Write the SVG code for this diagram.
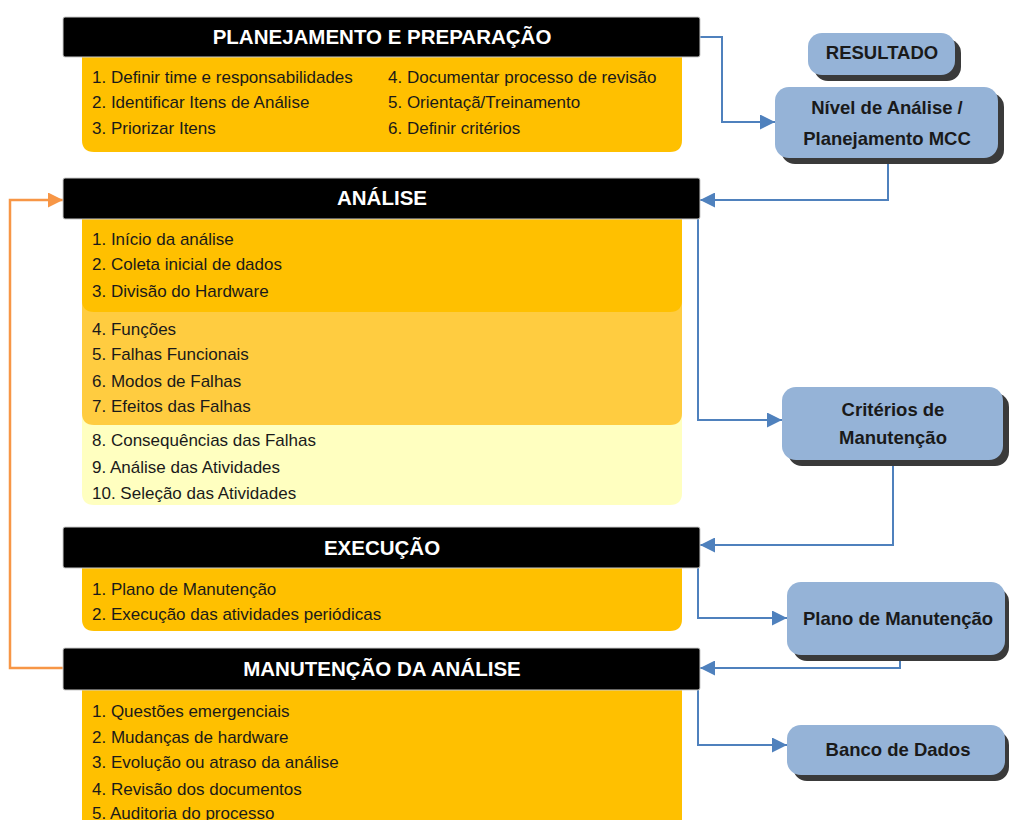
<svg xmlns="http://www.w3.org/2000/svg" width="1009" height="820" viewBox="0 0 1009 820">
<defs>
<marker id="ab" viewBox="0 0 10 10" refX="10" refY="5" markerWidth="17" markerHeight="15" markerUnits="userSpaceOnUse" orient="auto"><path d="M0,0 L10,5 L0,10 z" fill="#4F81BD"/></marker>
<marker id="ao" viewBox="0 0 10 10" refX="10" refY="5" markerWidth="17" markerHeight="15" markerUnits="userSpaceOnUse" orient="auto"><path d="M0,0 L10,5 L0,10 z" fill="#F79646"/></marker>
<style>
.hdr{fill:#000;stroke:#ccc;stroke-width:1}
.ht{font-family:"Liberation Sans",Arial,sans-serif;font-weight:bold;font-size:20.5px;fill:#fff;text-anchor:middle}
.bt{font-family:"Liberation Sans",Arial,sans-serif;font-size:17px;fill:#1a1a1a}
.o1{fill:#FFC000}
.o2{fill:#FFCC40}
.o3{fill:#FFFFC0}
.bx{fill:#95B3D7}
.sh{fill:#3a3a3a}
.nt{font-family:"Liberation Sans",Arial,sans-serif;font-weight:bold;font-size:18.5px;fill:#1a1a1a;text-anchor:middle}
.cb{fill:none;stroke:#4F81BD;stroke-width:2;marker-end:url(#ab)}
.co{fill:none;stroke:#F79646;stroke-width:2.5;marker-end:url(#ao)}
</style>
</defs>
<rect width="1009" height="820" fill="#fff"/>

<g id="connectors">
<path class="cb" d="M700,37 H722 V122 H775"/>
<path class="cb" d="M888,160 V200 H700"/>
<path class="cb" d="M698,219 V420 H782"/>
<path class="cb" d="M893,462 V545 H700"/>
<path class="cb" d="M698,568 V618 H787"/>
<path class="cb" d="M900,657 V668 H700"/>
<path class="cb" d="M698,690 V745 H787"/>
<path class="co" d="M63,668 H10 V200 H63"/>
</g>

<g id="planejamento">
<path class="o1" d="M82,57 H682 V140 Q682,152 670,152 H94 Q82,152 82,140 Z"/>
<rect class="hdr" x="63" y="17" width="637" height="40" rx="2"/>
<text class="ht" x="382" y="44">PLANEJAMENTO E PREPARAÇÃO</text>
<text class="bt" x="92" y="83">1. Definir time e responsabilidades</text>
<text class="bt" x="92" y="108">2. Identificar Itens de Análise</text>
<text class="bt" x="92" y="134">3. Priorizar Itens</text>
<text class="bt" x="388" y="83">4. Documentar processo de revisão</text>
<text class="bt" x="388" y="108">5. Orientaçã/Treinamento</text>
<text class="bt" x="388" y="134">6. Definir critérios</text>
</g>

<g id="analise">
<path class="o3" d="M82,410 H682 V493 Q682,505 670,505 H94 Q82,505 82,493 Z"/>
<path class="o2" d="M82,300 H682 V413 Q682,425 670,425 H94 Q82,425 82,413 Z"/>
<path class="o1" d="M82,219 H682 V300 Q682,312 670,312 H94 Q82,312 82,300 Z"/>
<rect class="hdr" x="63" y="178" width="637" height="41" rx="2"/>
<text class="ht" x="382" y="205">ANÁLISE</text>
<text class="bt" x="92" y="245">1. Início da análise</text>
<text class="bt" x="92" y="270">2. Coleta inicial de dados</text>
<text class="bt" x="92" y="297">3. Divisão do Hardware</text>
<text class="bt" x="92" y="335">4. Funções</text>
<text class="bt" x="92" y="360">5. Falhas Funcionais</text>
<text class="bt" x="92" y="387">6. Modos de Falhas</text>
<text class="bt" x="92" y="412">7. Efeitos das Falhas</text>
<text class="bt" x="92" y="446">8. Consequências das Falhas</text>
<text class="bt" x="92" y="473">9. Análise das Atividades</text>
<text class="bt" x="92" y="499">10. Seleção das Atividades</text>
</g>

<g id="execucao">
<path class="o1" d="M82,568 H682 V619 Q682,631 670,631 H94 Q82,631 82,619 Z"/>
<rect class="hdr" x="63" y="527" width="637" height="41" rx="2"/>
<text class="ht" x="382" y="555">EXECUÇÃO</text>
<text class="bt" x="92" y="595">1. Plano de Manutenção</text>
<text class="bt" x="92" y="620">2. Execução das atividades periódicas</text>
</g>

<g id="manutencao">
<rect class="o1" x="82" y="690" width="600" height="140"/>
<rect class="hdr" x="63" y="648" width="637" height="42" rx="2"/>
<text class="ht" x="382" y="676">MANUTENÇÃO DA ANÁLISE</text>
<text class="bt" x="92" y="717">1. Questões emergenciais</text>
<text class="bt" x="92" y="743">2. Mudanças de hardware</text>
<text class="bt" x="92" y="768">3. Evolução ou atraso da análise</text>
<text class="bt" x="92" y="795">4. Revisão dos documentos</text>
<text class="bt" x="92" y="819">5. Auditoria do processo</text>
</g>

<g id="resultado">
<rect class="sh" x="814" y="39" width="147" height="42" rx="14"/>
<rect class="bx" x="808" y="33" width="147" height="42" rx="14"/>
<text class="nt" x="882" y="59">RESULTADO</text>
</g>

<g id="nivel">
<rect class="sh" x="781" y="93" width="223" height="71" rx="14"/>
<rect class="bx" x="775" y="87" width="223" height="71" rx="14"/>
<text class="nt" x="887" y="114">Nível de Análise /</text>
<text class="nt" x="887" y="145">Planejamento MCC</text>
</g>

<g id="criterios">
<rect class="sh" x="788" y="393" width="221" height="73" rx="14"/>
<rect class="bx" x="782" y="387" width="221" height="73" rx="14"/>
<text class="nt" x="893" y="416">Critérios de</text>
<text class="nt" x="893" y="444">Manutenção</text>
</g>

<g id="plano">
<rect class="sh" x="793" y="588" width="216" height="73" rx="14"/>
<rect class="bx" x="787" y="582" width="218" height="73" rx="14"/>
<text class="nt" x="898" y="625">Plano de Manutenção</text>
</g>

<g id="banco">
<rect class="sh" x="793" y="731" width="216" height="50" rx="14"/>
<rect class="bx" x="787" y="725" width="218" height="50" rx="14"/>
<text class="nt" x="898" y="756">Banco de Dados</text>
</g>
</svg>
